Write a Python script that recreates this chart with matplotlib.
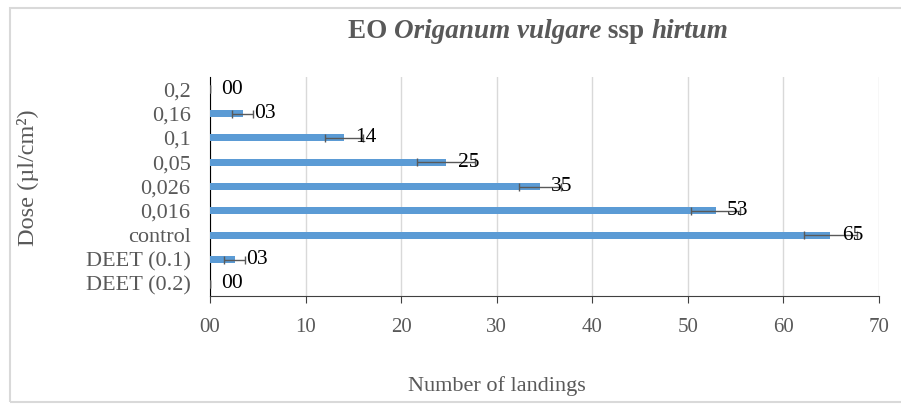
import matplotlib.pyplot as plt
from matplotlib.patches import Rectangle

# data, listed bottom to top as drawn
doses = ["DEET (0.2)", "DEET (0.1)", "control", "0,016", "0,026", "0,05", "0,1", "0,16", "0,2"]
landings = [0, 2.6, 64.9, 52.9, 34.5, 24.7, 14.0, 3.4, 0]
errors = [0, 1.1, 2.8, 2.6, 2.2, 3.0, 2.0, 1.1, 0]
bar_labels = ["00", "03", "65", "53", "35", "25", "14", "03", "00"]
xticks = [0, 10, 20, 30, 40, 50, 60, 70]
xtick_labels = ["00", "10", "20", "30", "40", "50", "60", "70"]

plt.rcParams['font.family'] = ['Liberation Serif', 'DejaVu Serif']
grey = "#595959"

fig = plt.figure(figsize=(9.01, 4.04), dpi=100)
ax = fig.add_axes([0.2331, 0.2673, 0.7425, 0.5421])

# light frame round the chart area
fig.patches.append(Rectangle((0.0115, 0.005), 1.2, 0.975, transform=fig.transFigure,
                             fill=False, edgecolor="#d9d9d9", linewidth=1.5))

ypos = list(range(len(doses)))
ax.barh(ypos, landings, height=0.3, color="#5b9bd5", zorder=3)
ax.errorbar(landings, ypos, xerr=errors, fmt="none", ecolor=grey,
            elinewidth=1, capsize=3, capthick=1, zorder=4)

for y, v, lab in zip(ypos, landings, bar_labels):
    ax.text(v + 1.2, y, lab, va="center", ha="left", fontsize=15.5, color="black", zorder=5)

ax.set_xlim(0, 70)
ax.set_ylim(-0.5, len(doses) - 0.5)
ax.set_xticks(xticks)
ax.set_xticklabels(xtick_labels)
ax.set_yticks(ypos)
ax.set_yticklabels(doses)
ax.tick_params(axis="x", direction="out", length=5, colors="#404040", labelcolor=grey,
               labelsize=15, pad=11)
ax.tick_params(axis="y", length=0, labelcolor=grey, labelsize=16, pad=14)

ax.grid(axis="x", color="#d9d9d9", linewidth=1, zorder=0)
for s in ["top", "right"]:
    ax.spines[s].set_visible(False)
ax.spines["left"].set_color("black")
ax.spines["bottom"].set_color("#404040")

fig.text(0.551, 0.045, "Number of landings", fontsize=16, color=grey, ha="center", va="center")
fig.text(0.031, 0.56, "Dose (µl/cm²)", rotation=90, fontsize=17.5, color=grey,
         ha="center", va="center")

# title assembled from pieces with mixed styles
parts = [("EO ", "normal"), ("Origanum vulgare", "italic"), (" ssp ", "normal"), ("hirtum", "italic")]
renderer = fig.canvas.get_renderer()
pieces = []
for s, st in parts:
    t = fig.text(0, 0.922, s, fontsize=19.5, fontweight="bold", style=st, color=grey, va="center")
    pieces.append(t)
widths = [t.get_window_extent(renderer).width / fig.bbox.width for t in pieces]
x = 0.597 - sum(widths) / 2
for t, w in zip(pieces, widths):
    t.set_x(x)
    x += w

plt.savefig("out.png", dpi=100)
